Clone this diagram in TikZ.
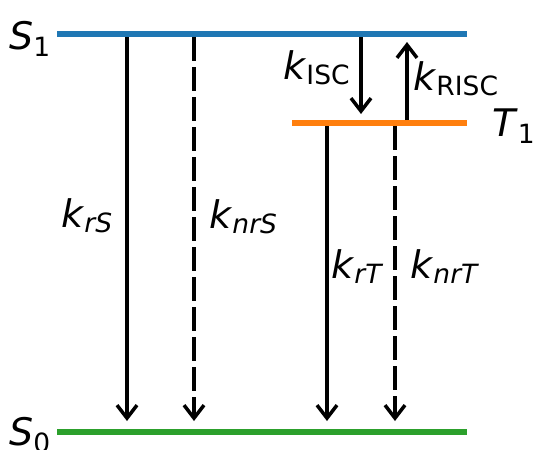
\documentclass[tikz,border=0pt]{standalone}
\usepackage{fontspec}
\setmainfont{DejaVu Sans}
\usetikzlibrary{arrows.meta}
\definecolor{tabblue}{HTML}{1F77B4}
\definecolor{taborange}{HTML}{FF7F0E}
\definecolor{tabgreen}{HTML}{2CA02C}
\newcommand{\bigfont}{\fontsize{38}{42}\selectfont}
\newcommand{\subfont}{\fontsize{26.5}{29}\selectfont}
\newcommand{\kit}[1]{\textit{k}\raisebox{-0.15em}{\subfont\itshape #1}}
\newcommand{\kup}[1]{\textit{k}\raisebox{-0.15em}{\subfont\upshape #1}}
\newcommand{\lev}[2]{\textit{#1}\raisebox{-0.2em}{\subfont\upshape #2}}
\begin{document}
\begin{tikzpicture}[x=1pt,y=-1pt,
  level/.style={line width=6pt},
  rate/.style={line width=3.5pt,-{Straight Barb[length=13pt,width=20pt]}},
  ratedash/.style={rate,dash pattern=on 24pt off 6pt},
  lbl/.style={inner sep=0pt,anchor=base west,font=\bigfont}]
\useasboundingbox (0,0) rectangle (536,450);
% levels
\coordinate (s1l) at (57,34);  \coordinate (s1r) at (467,34);
\coordinate (t1l) at (292,123); \coordinate (t1r) at (467,123);
\coordinate (s0l) at (57,432); \coordinate (s0r) at (467,432);
\draw[level,tabblue] (s1l) -- (s1r);
\draw[level,taborange] (t1l) -- (t1r);
\draw[level,tabgreen] (s0l) -- (s0r);
% arrow endpoints
\coordinate (a1s) at (127,37);  \coordinate (a1e) at (127,421);
\coordinate (a2s) at (194,37);  \coordinate (a2e) at (194,421);
\coordinate (a3s) at (327,126); \coordinate (a3e) at (327,421);
\coordinate (a4s) at (395,126); \coordinate (a4e) at (395,421);
\coordinate (a5s) at (361,37);  \coordinate (a5e) at (361,114);
\coordinate (a6s) at (407,120); \coordinate (a6e) at (407,42);
\draw[rate] (a1s) -- (a1e);
\draw[ratedash] (a2s) -- (a2e);
\draw[rate] (a3s) -- (a3e);
\draw[ratedash] (a4s) -- (a4e);
\draw[rate] (a5s) -- (a5e);
\draw[rate] (a6s) -- (a6e);
% labels
\node[lbl] (S1) at (9,49) {\lev{S}{1}};
\node[lbl] (S0) at (9,445) {\lev{S}{0}};
\node[lbl] (T1) at (492,136) {\lev{T}{1}};
\node[lbl] (krS) at (61,227) {\kit{rS}};
\node[lbl] (knrS) at (209,228) {\kit{nrS}};
\node[lbl] (krT) at (331,278) {\kit{rT}};
\node[lbl] (knrT) at (410,278) {\kit{nrT}};
\node[lbl] (kISC) at (283,79) {\kup{ISC}};
\node[lbl] (kRISC) at (413,90) {\kup{RISC}};
\end{tikzpicture}
\end{document}
